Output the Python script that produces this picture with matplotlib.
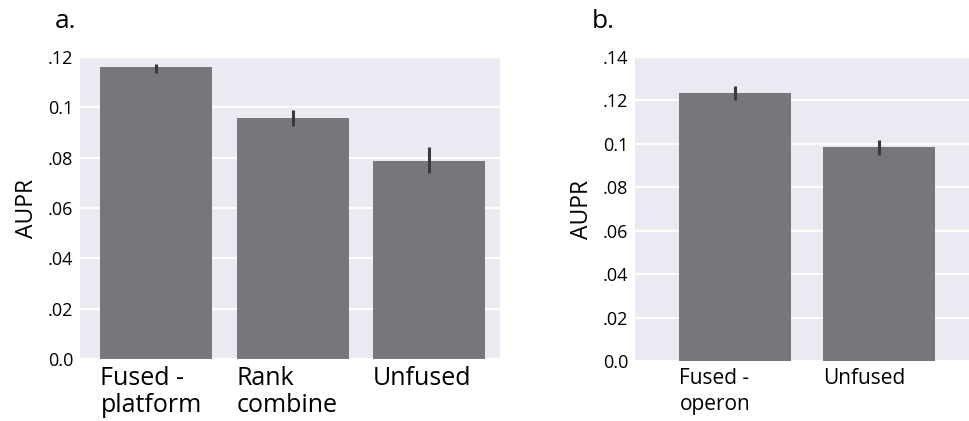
import matplotlib
matplotlib.use("Agg")
import matplotlib.pyplot as plt
import numpy as np

# Panel a: platform fusion
labels_a = ["Fused -\nplatform", "Rank\ncombine", "Unfused"]
aupr_a = [0.116, 0.0956, 0.0787]
err_lo_a = [0.1135, 0.0926, 0.0739]
err_hi_a = [0.1174, 0.0988, 0.0841]

# Panel b: operon fusion
labels_b = ["Fused -\noperon", "Unfused"]
aupr_b = [0.1235, 0.0985]
err_lo_b = [0.1202, 0.0949]
err_hi_b = [0.1267, 0.1017]

ticks_a = [0.0, 0.02, 0.04, 0.06, 0.08, 0.1, 0.12]
ticklabels_a = ["0.0", ".02", ".04", ".06", ".08", "0.1", ".12"]
ticks_b = [0.0, 0.02, 0.04, 0.06, 0.08, 0.1, 0.12, 0.14]
ticklabels_b = ["0.0", ".02", ".04", ".06", ".08", "0.1", ".12", ".14"]

plt.rcParams['font.family'] = ['Open Sans', 'DejaVu Sans']

bg = '#EAEAF2'
bar_col = '#75777A'
err_col = '#3A3A3C'

fig = plt.figure(figsize=(9.69, 4.21), dpi=100)
ax_a = fig.add_axes([0.0826, 0.1473, 0.4334, 0.7173])
ax_b = fig.add_axes([0.6553, 0.1425, 0.3447, 0.7221])


def draw_panel(ax, labels, vals, lo, hi, width, xlim, ylim, ticks, ticklabels,
               xfs, lsp):
    x = np.arange(len(vals))
    vals = np.array(vals)
    yerr = [vals - np.array(lo), np.array(hi) - vals]
    ax.set_facecolor(bg)
    ax.set_axisbelow(True)
    ax.bar(x, vals, width=width, color=bar_col, edgecolor='none', zorder=2)
    ax.errorbar(x, vals, yerr=yerr, fmt='none', ecolor=err_col,
                elinewidth=2.2, capsize=0, zorder=3)
    ax.set_xlim(*xlim)
    ax.set_ylim(*ylim)
    ax.set_yticks(ticks)
    ax.set_yticklabels(ticklabels, fontsize=13)
    ax.yaxis.grid(True, color='white', linewidth=1.6)
    ax.xaxis.grid(False)
    ax.set_xticks(x - width / 2)
    ax.set_xticklabels(labels, fontsize=xfs, ha='left', linespacing=lsp)
    ax.tick_params(length=0, pad=5)
    for s in ax.spines.values():
        s.set_visible(False)
    ax.set_ylabel("AUPR", fontsize=16.5, labelpad=6)


draw_panel(ax_a, labels_a, aupr_a, err_lo_a, err_hi_a, 0.82,
           (-0.56, 2.52), (0, 0.12), ticks_a, ticklabels_a, 18, 1.1)
draw_panel(ax_b, labels_b, aupr_b, err_lo_b, err_hi_b, 0.78,
           (-0.70, 1.63), (0, 0.14), ticks_b, ticklabels_b, 15, 1.3)

fig.text(55 / 969, 1 - 28 / 421, "a.", fontsize=19, ha='left', va='baseline')
fig.text(592 / 969, 1 - 28 / 421, "b.", fontsize=19, ha='left', va='baseline')

fig.savefig("out.png", dpi=100)
